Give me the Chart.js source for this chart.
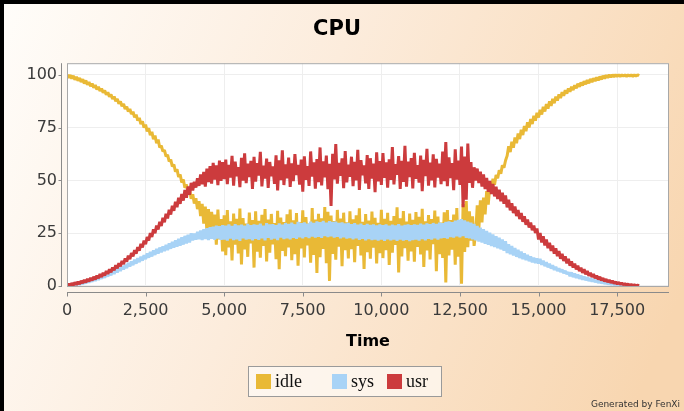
<!DOCTYPE html>
<html>
<head>
<meta charset="utf-8">
<script src="https://cdn.jsdelivr.net/npm/chart.js@4.4.1/dist/chart.umd.min.js"></script>
<style>
  html, body { margin: 0; padding: 0; background: #fff; }
  canvas { display: block; }
</style>
</head>
<body>
<canvas id="cpuChart" width="684" height="411"></canvas>
<script>
// samples every 50 time units, starting at 0 (one row = 1000 time units)
const startTime = 0;
const timeStep = 50;

const seriesNames = ['idle', 'sys', 'usr'];
const seriesColors = ['#e9b936', '#a8d3f6', '#cc3b3d'];
const xTicks = [0, 2500, 5000, 7500, 10000, 12500, 15000, 17500];
const yTicks = [0, 25, 50, 75, 100];

const idle = [
  100, 98.6, 99.9, 98.2, 99.5, 97.7, 99.0, 97.2, 98.5, 96.6, 97.9, 95.9, 97.3, 95.3, 96.6, 94.6, 95.9, 93.9, 95.2, 93.1,
  94.3, 92.4, 93.5, 91.5, 92.6, 90.6, 91.7, 89.6, 90.7, 88.6, 89.7, 87.5, 88.6, 86.3, 87.4, 85.1, 86.2, 83.8, 84.9, 82.6,
  83.8, 81.4, 82.5, 79.9, 81.1, 78.3, 79.6, 76.7, 78.0, 75.0, 76.4, 73.2, 74.7, 71.4, 73.0, 69.5, 71.2, 67.6, 69.3, 65.6,
  66.4, 63.7, 64.3, 61.4, 62.1, 59.0, 59.8, 56.6, 57.5, 54.1, 55.2, 51.6, 52.8, 49.0, 50.4, 46.5, 48.1, 43.9, 45.7, 41.3,
  43.4, 39.0, 41.6, 36.4, 40.2, 33.1, 38.9, 29.5, 37.6, 26.2, 36.4, 23.5, 35.1, 27.8, 33.8, 19.6, 36.2, 22.1, 31.7, 16.4,
  33.4, 14.6, 35.9, 18.2, 30.6, 12.1, 34.3, 19.5, 31.8, 15.4, 36.7, 10.2, 32.1, 17.3, 29.6, 13.8, 34.8, 20.1, 31.2, 8.7,
  35.3, 16.2, 30.9, 13.4, 33.7, 18.9, 36.4, 11.6, 31.5, 15.8, 34.1, 19.7, 29.8, 12.7, 35.6, 7.9, 32.4, 16.6, 30.3, 14.1,
  33.9, 18.3, 36.2, 12.2, 31.1, 15.1, 34.5, 9.6, 30.2, 17.8, 35.8, 13.5, 32.6, 19.2, 29.5, 11.0, 36.9, 14.7, 31.4, 6.2,
  34.2, 13.6, 32.0, 17.5, 37.4, 10.8, 35.1, 2.4, 33.3, 15.2, 30.7, 12.4, 36.0, 18.6, 31.9, 9.3, 34.7, 16.9, 30.1, 13.0,
  35.4, 17.4, 31.6, 11.3, 33.5, 19.0, 36.8, 14.4, 30.4, 8.1, 34.0, 16.0, 31.0, 12.9, 35.2, 18.1, 32.3, 10.6, 29.9, 15.5,
  36.1, 13.2, 31.8, 17.0, 34.6, 9.9, 30.8, 15.7, 33.1, 19.4, 37.2, 6.4, 32.0, 14.0, 35.5, 17.9, 30.5, 12.0, 34.3, 16.3,
  31.3, 11.5, 35.0, 18.5, 32.7, 14.9, 36.5, 9.0, 30.6, 16.8, 33.6, 12.6, 31.7, 19.8, 35.7, 7.0, 32.9, 15.0, 30.0, 13.3,
  34.9, 1.6, 36.0, 14.5, 31.2, 17.2, 33.8, 10.1, 36.9, 13.9, 30.7, 1.0, 38.8, 16.1, 40.2, 18.4, 35.3, 21.5, 33.0, 19.0,
  24.8, 38.2, 26.7, 40.6, 30.1, 41.8, 33.9, 44.9, 38.5, 47.2, 46.1, 50.8, 47.9, 52.6, 51.0, 54.8, 53.2, 57.1, 56.0, 59.4,
  61.6, 66.2, 63.4, 68.3, 65.5, 70.3, 67.6, 72.2, 69.6, 74.0, 71.5, 75.8, 73.3, 77.5, 75.0, 79.1, 76.7, 80.6, 78.3, 82.0,
  79.8, 83.4, 81.2, 84.8, 82.6, 86.1, 84.0, 87.4, 85.3, 88.6, 86.6, 89.7, 87.8, 90.8, 89.0, 91.8, 90.1, 92.7, 91.1, 93.6,
  92.0, 94.4, 92.8, 95.1, 93.6, 95.8, 94.3, 96.4, 94.9, 97.0, 95.5, 97.5, 96.0, 98.0, 96.5, 98.4, 97.0, 98.8, 97.4, 99.2,
  97.8, 99.5, 98.2, 99.8, 98.6, 100, 98.9, 100, 99.1, 100, 99.3, 100, 99.2, 100, 99.4, 100, 99.3, 100, 99.4, 100,
  99.3, 100, 99.4, 100, 99.5
];

const sys = [
  0, 0.8, 0.1, 1.0, 0.2, 1.3, 0.4, 1.6, 0.6, 2.0, 0.9, 2.4, 1.2, 2.8, 1.6, 3.3, 2.0, 3.7, 2.4, 4.2,
  2.9, 4.7, 3.4, 5.3, 3.9, 5.9, 4.5, 6.5, 5.1, 7.2, 5.7, 7.9, 6.4, 8.6, 7.1, 9.4, 7.8, 10.1, 8.5, 10.9,
  9.2, 11.6, 9.9, 12.4, 10.6, 13.1, 11.3, 13.9, 12.0, 14.6, 12.7, 15.4, 13.4, 16.1, 14.0, 16.8, 14.7, 17.5, 15.3, 18.2,
  15.9, 18.8, 16.5, 19.5, 17.0, 20.2, 17.6, 20.9, 18.1, 21.6, 18.6, 22.3, 19.1, 23.0, 19.6, 23.7, 20.1, 24.3, 20.6, 24.9,
  21.6, 24.8, 21.9, 25.6, 22.1, 26.3, 21.8, 26.9, 22.2, 27.4, 21.7, 27.8, 22.3, 28.1, 21.9, 28.5, 22.4, 28.3, 21.8, 28.8,
  22.0, 28.6, 21.5, 29.1, 22.4, 28.4, 21.7, 29.3, 22.1, 28.7, 21.4, 29.0, 22.6, 28.5, 21.9, 29.4, 22.2, 28.8, 21.6, 29.2,
  22.3, 28.9, 21.8, 29.5, 22.5, 28.6, 21.6, 29.7, 22.8, 29.1, 22.0, 29.3, 22.4, 28.8, 21.7, 29.6, 22.9, 29.0, 22.2, 29.8,
  22.6, 29.4, 22.1, 30.0, 22.8, 29.2, 22.3, 30.3, 23.0, 29.7, 22.5, 30.1, 23.2, 29.5, 22.7, 30.4, 23.4, 29.9, 22.9, 30.6,
  23.3, 30.2, 22.8, 30.8, 23.6, 30.0, 23.1, 30.7, 23.5, 30.3, 22.9, 30.5, 23.3, 29.8, 22.6, 30.1, 23.0, 29.6, 22.4, 29.9,
  22.7, 29.3, 22.1, 29.7, 22.5, 29.0, 21.8, 29.5, 22.3, 28.8, 21.6, 29.4, 22.2, 28.9, 21.7, 29.2, 22.0, 28.7, 21.5, 29.1,
  21.9, 28.8, 21.3, 29.2, 22.1, 28.6, 21.6, 29.0, 21.9, 28.7, 21.4, 29.3, 22.0, 28.5, 21.5, 28.9, 21.8, 29.1, 21.2, 28.8,
  21.7, 29.2, 22.0, 28.9, 21.5, 29.5, 22.2, 29.0, 21.6, 29.6, 22.3, 29.3, 21.9, 29.8, 22.5, 29.4, 22.0, 30.0, 22.6, 29.7,
  22.8, 30.3, 22.4, 30.6, 23.1, 30.2, 22.9, 30.9, 23.5, 31.3, 23.0, 31.7, 23.6, 31.0, 22.8, 30.5, 22.5, 30.0, 22.1, 29.4,
  21.6, 28.4, 21.0, 27.6, 20.5, 26.9, 20.0, 26.1, 19.5, 25.2, 18.9, 24.4, 18.4, 23.6, 17.8, 22.8, 17.3, 22.0, 16.7, 21.2,
  15.6, 19.8, 15.0, 18.9, 14.4, 18.0, 13.8, 17.1, 13.2, 16.3, 12.7, 15.5, 12.2, 14.7, 11.7, 14.0, 11.2, 13.4, 10.8, 13.0,
  10.6, 12.8, 10.0, 12.0, 9.4, 11.2, 8.8, 10.5, 8.2, 9.8, 7.6, 9.1, 7.1, 8.4, 6.6, 7.7, 6.1, 7.1, 5.6, 6.5,
  4.6, 6.4, 4.2, 5.9, 3.8, 5.4, 3.4, 4.9, 3.0, 4.4, 2.7, 4.0, 2.4, 3.6, 2.1, 3.2, 1.8, 2.8, 1.5, 2.4,
  1.3, 2.1, 1.1, 1.8, 0.9, 1.5, 0.7, 1.3, 0.6, 1.1, 0.4, 0.9, 0.3, 0.7, 0.2, 0.5, 0.1, 0.4, 0.1, 0.3,
  0, 0.2, 0, 0.1, 0
];

const usr = [
  0, 1.0, 0.1, 1.3, 0.3, 1.7, 0.6, 2.0, 0.9, 2.4, 1.3, 2.8, 1.7, 3.3, 2.1, 3.8, 2.6, 4.3, 3.1, 4.9,
  3.6, 5.6, 4.2, 6.3, 4.9, 7.1, 5.7, 7.9, 6.5, 8.8, 7.4, 9.8, 8.3, 10.8, 9.3, 11.9, 10.4, 13.1, 11.5, 14.3,
  12.7, 15.6, 14.0, 17.0, 15.3, 18.4, 16.7, 19.9, 18.2, 21.5, 19.8, 23.2, 21.5, 25.0, 23.2, 26.8, 25.0, 28.6, 26.8, 30.4,
  28.4, 32.3, 30.2, 34.2, 32.0, 36.1, 33.8, 38.0, 35.6, 39.9, 37.3, 41.8, 38.9, 43.6, 40.4, 45.4, 41.8, 47.1, 43.2, 48.8,
  45.2, 49.3, 46.6, 51.0, 47.4, 52.8, 48.1, 54.0, 47.0, 55.6, 49.2, 56.7, 48.5, 58.3, 50.4, 57.1, 47.7, 59.4, 49.8, 58.6,
  50.6, 59.8, 48.2, 57.4, 51.3, 61.6, 47.5, 58.9, 52.0, 56.3, 46.8, 60.7, 49.9, 62.8, 48.7, 57.9, 51.6, 59.2, 45.9, 61.1,
  49.4, 58.2, 52.3, 63.5, 47.1, 57.0, 50.8, 60.3, 46.4, 58.7, 51.9, 56.6, 48.3, 61.9, 45.2, 59.5, 50.1, 64.2, 47.8, 57.6,
  51.0, 60.8, 46.9, 58.1, 49.6, 62.4, 52.5, 57.3, 48.0, 59.9, 44.7, 61.4, 50.3, 56.8, 47.4, 63.7, 51.8, 58.5, 46.1, 60.1,
  49.2, 65.6, 47.6, 59.0, 51.4, 61.7, 45.8, 57.8, 37.9, 62.6, 50.5, 67.2, 48.4, 58.3, 52.1, 60.4, 46.3, 63.9, 49.0, 57.5,
  51.7, 61.2, 47.3, 58.8, 50.0, 64.5, 45.5, 59.6, 52.4, 57.1, 48.6, 62.0, 46.0, 60.5, 50.9, 58.0, 44.4, 63.3, 49.5, 59.1,
  47.9, 62.9, 51.2, 58.6, 46.6, 60.0, 50.2, 65.8, 48.1, 57.7, 52.6, 61.5, 45.9, 59.3, 49.3, 66.4, 47.0, 58.9, 51.5, 60.6,
  46.2, 63.0, 50.7, 57.2, 48.9, 61.8, 44.9, 59.7, 52.0, 64.9, 47.5, 58.4, 50.0, 62.3, 46.7, 60.2, 51.3, 57.9, 48.2, 63.6,
  49.6, 68.1, 47.2, 60.9, 51.1, 58.2, 45.4, 64.7, 50.4, 59.4, 47.9, 66.0, 37.3, 61.3, 40.8, 67.4, 48.8, 58.7, 46.5, 56.2,
  49.9, 55.6, 48.7, 54.1, 47.1, 52.8, 45.9, 51.2, 44.6, 49.7, 43.5, 48.3, 42.4, 47.0, 41.2, 45.6, 40.1, 44.2, 38.9, 42.9,
  37.2, 40.8, 35.8, 39.2, 34.5, 37.6, 33.1, 36.0, 31.7, 34.5, 30.4, 33.0, 29.0, 31.5, 27.7, 30.0, 26.4, 28.6, 25.1, 27.2,
  22.0, 25.1, 20.6, 23.5, 19.2, 22.0, 17.9, 20.5, 16.6, 19.1, 15.3, 17.8, 14.1, 16.5, 12.9, 15.2, 11.8, 14.0, 10.7, 12.8,
  9.6, 11.6, 8.7, 10.6, 7.8, 9.6, 7.0, 8.7, 6.2, 7.9, 5.5, 7.1, 4.8, 6.3, 4.2, 5.6, 3.6, 4.9, 3.1, 4.3,
  2.6, 3.7, 2.2, 3.2, 1.8, 2.8, 1.5, 2.4, 1.2, 2.0, 0.9, 1.7, 0.7, 1.4, 0.5, 1.1, 0.4, 0.9, 0.3, 0.7,
  0.2, 0.5, 0.1, 0.3, 0.1
];

const seriesValues = [idle, sys, usr];

function toPoints(values) {
    return values.map((v, i) => ({ x: startTime + i * timeStep, y: v }));
}

const sansFont = '"DejaVu Sans", "Liberation Sans", sans-serif';
const serifFont = '"Liberation Serif", "DejaVu Serif", serif';

// page background, black frame edges and white plot area
const backdrop = {
    id: 'backdrop',
    beforeDraw(chart) {
        const { ctx, width, height, chartArea: a } = chart;
        ctx.save();
        const g = ctx.createLinearGradient(0, 0, width, height * 0.7);
        g.addColorStop(0, '#fffdfa');
        g.addColorStop(0.45, '#fcecdc');
        g.addColorStop(1, '#f8d6b0');
        ctx.fillStyle = g;
        ctx.fillRect(0, 0, width, height);
        ctx.fillStyle = '#000';
        ctx.fillRect(0, 0, width, 4);
        ctx.fillRect(0, 0, 4, height);
        ctx.fillStyle = '#fff';
        ctx.fillRect(a.left, a.top, a.right - a.left, a.bottom - a.top);
        ctx.restore();
    }
};

// plot outline, offset axis lines, legend box and footer
const decorations = {
    id: 'decorations',
    afterDraw(chart) {
        const { ctx, chartArea: a, scales } = chart;
        ctx.save();
        ctx.lineWidth = 1;
        ctx.strokeStyle = '#a8a8a8';
        ctx.strokeRect(a.left + 0.5, a.top + 0.5, a.right - a.left - 1, a.bottom - a.top - 1);

        // y axis line
        ctx.strokeStyle = '#8a8a8a';
        const ax = a.left - 5.5;
        ctx.beginPath();
        ctx.moveTo(ax, a.top);
        ctx.lineTo(ax, a.bottom);
        yTicks.forEach(t => {
            const y = Math.round(scales.y.getPixelForValue(t)) + 0.5;
            ctx.moveTo(ax, y);
            ctx.lineTo(ax - 3, y);
        });
        // x axis line
        const ay = a.bottom + 5.5;
        ctx.moveTo(a.left, ay);
        ctx.lineTo(a.right, ay);
        xTicks.forEach(t => {
            const x = Math.round(scales.x.getPixelForValue(t)) + 0.5;
            ctx.moveTo(x, ay);
            ctx.lineTo(x, ay + 4);
        });
        ctx.stroke();

        // legend
        ctx.fillStyle = 'rgba(255,255,255,0.6)';
        ctx.fillRect(248, 366, 193, 30);
        ctx.strokeStyle = '#9a9a9a';
        ctx.strokeRect(248.5, 366.5, 193, 30);
        const swatchX = [256, 332, 387];
        ctx.font = '18px ' + serifFont;
        ctx.textBaseline = 'middle';
        ctx.textAlign = 'left';
        chart.data.datasets.forEach((ds, i) => {
            ctx.fillStyle = ds.borderColor;
            ctx.fillRect(swatchX[i], 374, 15, 15);
            ctx.fillStyle = '#111';
            ctx.fillText(ds.label, swatchX[i] + 19, 382);
        });

        ctx.font = '9px ' + sansFont;
        ctx.fillStyle = '#333';
        ctx.textAlign = 'right';
        ctx.fillText('Generated by FenXi', 680, 405);
        ctx.restore();
    }
};

const datasets = seriesNames.map((name, i) => ({
    label: name,
    data: toPoints(seriesValues[i]),
    borderColor: seriesColors[i],
    backgroundColor: seriesColors[i],
    borderWidth: 3,
    borderJoinStyle: 'bevel',
    pointRadius: 0,
    tension: 0,
    // usr drawn on top, then sys, then idle
    order: 3 - i
}));

new Chart(document.getElementById('cpuChart'), {
    type: 'line',
    data: { datasets: datasets },
    options: {
        responsive: false,
        animation: false,
        devicePixelRatio: 1,
        layout: { padding: { top: 5, left: 5, right: 15, bottom: 57 } },
        plugins: {
            legend: { display: false },
            tooltip: { enabled: false },
            title: {
                display: true,
                text: 'CPU',
                color: '#000',
                font: { family: sansFont, size: 21, weight: 'bold' },
                padding: { top: 12, bottom: 21 }
            }
        },
        scales: {
            x: {
                type: 'linear',
                min: 0,
                max: 19150,
                afterBuildTicks: s => { s.ticks = xTicks.map(v => ({ value: v })); },
                afterFit: s => { s.height = 67; },
                border: { display: false },
                grid: { color: '#eeeeee', drawTicks: false },
                ticks: {
                    maxRotation: 0,
                    autoSkip: false,
                    padding: 14,
                    color: '#3a3a3a',
                    font: { family: sansFont, size: 16 },
                    callback: v => v.toLocaleString('en-US')
                },
                title: {
                    display: true,
                    text: 'Time',
                    color: '#000',
                    font: { family: sansFont, size: 16, weight: 'bold' },
                    padding: { top: 0, bottom: 3 }
                }
            },
            y: {
                min: -0.5,
                max: 105.5,
                afterBuildTicks: s => { s.ticks = yTicks.map(v => ({ value: v })); },
                afterFit: s => { s.width = 62; },
                border: { display: false },
                grid: { color: '#eeeeee', drawTicks: false },
                ticks: {
                    padding: 10,
                    color: '#3a3a3a',
                    font: { family: sansFont, size: 16 }
                }
            }
        }
    },
    plugins: [backdrop, decorations]
});
</script>
</body>
</html>
